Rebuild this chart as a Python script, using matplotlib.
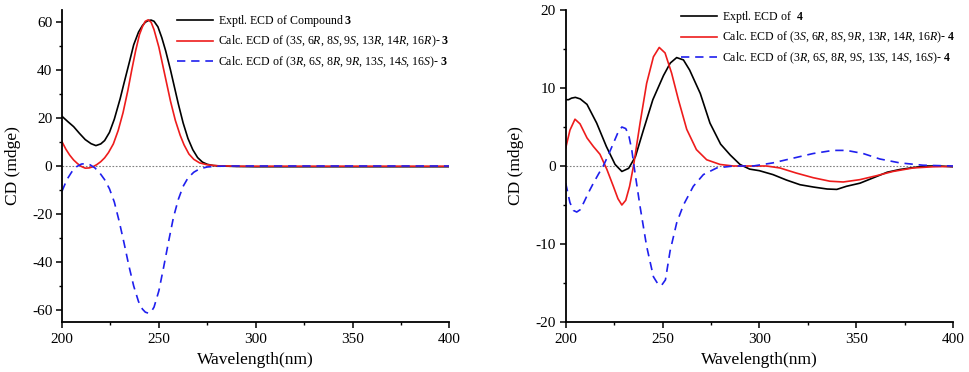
import matplotlib
matplotlib.use("Agg")
import matplotlib.pyplot as plt
from matplotlib.ticker import MultipleLocator

plt.rcParams["font.family"] = ["Liberation Serif", "DejaVu Serif"]
plt.rcParams["mathtext.fontset"] = "custom"
plt.rcParams["mathtext.rm"] = "Liberation Serif"
plt.rcParams["mathtext.it"] = "Liberation Serif:italic"
plt.rcParams["mathtext.bf"] = "Liberation Serif:bold"
plt.rcParams["axes.unicode_minus"] = False

# --- compound 3 (left panel) ---
wl3_exp = [200, 203, 206, 209, 212, 215, 217.5, 220, 222, 224.5, 227, 230, 232, 235, 237, 239.5,
           241.5, 243, 244.5, 246, 247.5, 249.5, 251.5, 253.5, 256, 258, 260, 262.5, 265, 267.5,
           270, 272.5, 275, 278, 282, 290, 300, 350, 400]
cd3_exp = [20.7, 18.5, 16.4, 13.6, 11.0, 9.3, 8.5, 9.2, 10.6, 14.0, 19.5, 28.0, 34.5, 44.0, 50.5, 55.8,
           58.5, 59.9, 60.6, 60.8, 60.3, 58.0, 53.5, 48.0, 40.0, 33.0, 26.0, 18.0, 11.5, 6.8,
           3.5, 1.6, 0.7, 0.2, 0.0, -0.2, -0.3, -0.3, -0.3]

wl3_a = [200, 202, 204, 206, 208, 210, 212, 214, 216, 218, 220, 222, 224, 226.5, 229, 231.5, 234,
         236, 238, 240, 241.5, 243, 244.5, 246, 247.5, 250, 252, 254, 256, 258.5, 261, 263, 265.5,
         268, 271, 275, 280, 290, 300, 350, 400]
cd3_a = [10.1, 7.0, 4.5, 2.5, 1.0, -0.2, -0.9, -0.8, -0.3, 0.6, 1.8, 3.4, 5.6, 9.2, 14.8, 22.2, 31.5,
         40.0, 48.0, 54.8, 58.0, 60.3, 60.9, 59.9, 56.8, 49.5, 42.0, 34.5, 27.0, 19.0, 12.8, 8.8, 5.0,
         2.8, 1.3, 0.5, 0.1, -0.1, -0.1, -0.1, -0.1]

wl3_b = [200, 202.5, 205, 207.5, 210, 212, 214.5, 217, 219.5, 222, 224.5, 227, 229.5, 232, 234.5,
         237, 239.5, 241.5, 243, 244.5, 246, 247.5, 250, 252.5, 255, 257.5, 260, 262.5, 265, 268, 271,
         275, 280, 290, 300, 350, 400]
cd3_b = [-10.5, -5.7, -2.5, -0.3, 0.8, 1.0, 0.5, -0.8, -2.9, -5.7, -9.5, -15.0, -23.0, -32.0, -41.5,
         -50.0, -56.5, -59.6, -60.9, -61.3, -60.8, -58.8, -52.0, -42.0, -31.5, -21.5, -14.0, -8.5,
         -5.0, -2.6, -1.2, -0.4, -0.1, 0.0, 0.0, 0.0, 0.0]

# --- compound 4 (right panel) ---
wl4_exp = [200, 201.5, 203, 205, 207.5, 211, 216, 221, 225.5, 229, 232.5, 236, 240, 245, 250.5,
           254, 257.3, 260.8, 264, 269.5, 274.5, 280, 285, 290, 295, 300, 307, 314, 321, 328,
           335, 340, 345, 352, 359, 366, 372.5, 379.5, 386, 393, 400]
cd4_exp = [8.5, 8.5, 8.7, 8.8, 8.6, 7.9, 5.5, 2.5, 0.2, -0.7, -0.3, 1.2, 4.5, 8.5, 11.6, 13.2, 13.9,
           13.6, 12.3, 9.3, 5.5, 2.8, 1.4, 0.2, -0.4, -0.6, -1.1, -1.8, -2.4, -2.7, -2.95, -3.0,
           -2.6, -2.2, -1.5, -0.8, -0.45, -0.2, 0.0, 0.0, -0.1]

wl4_a = [200, 202.2, 204.8, 207.4, 211, 214.3, 217.7, 221.2, 224.6, 227, 229, 231, 233, 235,
         238.4, 241.8, 245.3, 248.3, 251.3, 254.7, 258.2, 262.5, 267.5, 272.8, 279.7, 286.5,
         295, 303.7, 310.6, 319, 327.8, 336.4, 343.3, 351.9, 360.4, 369, 379.4, 389.7, 400]
cd4_a = [2.3, 4.6, 6.0, 5.4, 3.6, 2.5, 1.5, -0.4, -2.6, -4.2, -5.0, -4.4, -2.6, 0.0, 5.5, 10.6,
         14.0, 15.2, 14.5, 11.9, 8.5, 4.7, 2.1, 0.8, 0.2, 0.0, 0.0, 0.0, -0.25, -0.9, -1.5,
         -1.95, -2.05, -1.75, -1.25, -0.7, -0.25, -0.1, -0.05]

wl4_b = [200, 202.2, 204, 205.7, 207.5, 209.5, 212, 214.3, 217, 219.4, 222, 224.6, 227, 229,
         231, 232.5, 234.1, 235.8, 238.4, 241.8, 245.3, 247.8, 249.5, 251.5, 253.9, 257.3,
         260.8, 265.9, 271.1, 278, 286.5, 296.8, 307, 317.4, 327.8, 338, 345, 353.6, 362.2,
         372.5, 384.5, 400]
cd4_b = [-2.2, -4.7, -5.7, -5.9, -5.6, -4.6, -3.3, -2.2, -1.0, 0.0, 1.4, 2.9, 4.3, 5.0, 4.8,
         4.0, 2.1, -0.9, -5.2, -10.3, -14.2, -15.2, -15.3, -14.6, -10.9, -7.3, -5.0, -2.6,
         -1.1, -0.25, 0.0, 0.0, 0.4, 1.0, 1.6, 2.0, 2.0, 1.6, 0.9, 0.4, 0.1, 0.0]

labels3 = ["Exptl. ECD of Compound$\\ \\mathbf{3}$",
           "Calc. ECD of (3$\\mathit{S}$, 6$\\mathit{R}$, 8$\\mathit{S}$, 9$\\mathit{S}$, 13$\\mathit{R}$, 14$\\mathit{R}$, 16$\\mathit{R}$)- $\\mathbf{3}$",
           "Calc. ECD of (3$\\mathit{R}$, 6$\\mathit{S}$, 8$\\mathit{R}$, 9$\\mathit{R}$, 13$\\mathit{S}$, 14$\\mathit{S}$, 16$\\mathit{S}$)- $\\mathbf{3}$"]
labels4 = ["Exptl. ECD of  $\\mathbf{4}$",
           "Calc. ECD of (3$\\mathit{S}$, 6$\\mathit{R}$, 8$\\mathit{S}$, 9$\\mathit{R}$, 13$\\mathit{R}$, 14$\\mathit{R}$, 16$\\mathit{R}$)- $\\mathbf{4}$",
           "Calc. ECD of (3$\\mathit{R}$, 6$\\mathit{S}$, 8$\\mathit{R}$, 9$\\mathit{S}$, 13$\\mathit{S}$, 14$\\mathit{S}$, 16$\\mathit{S}$)- $\\mathbf{4}$"]


def draw_panel(ax, curves, labels, ylim, ymajor, legend_xy):
    ax.axhline(0, color="#808080", lw=0.8, ls=(0, (1.5, 1.5)), zorder=1)
    ax.plot(curves[0][0], curves[0][1], color="black", lw=1.2, label=labels[0])
    ax.plot(curves[1][0], curves[1][1], color="#ee1c1c", lw=1.2, label=labels[1])
    ax.plot(curves[2][0], curves[2][1], color="#1f1fee", lw=1.2, ls=(0, (5, 3.5)), label=labels[2])
    ax.set_xlim(200, 400)
    ax.set_ylim(*ylim)
    ax.xaxis.set_major_locator(MultipleLocator(50))
    ax.xaxis.set_minor_locator(MultipleLocator(25))
    ax.yaxis.set_major_locator(MultipleLocator(ymajor))
    ax.yaxis.set_minor_locator(MultipleLocator(ymajor / 2))
    for s in ["top", "right"]:
        ax.spines[s].set_visible(False)
    for s in ["left", "bottom"]:
        ax.spines[s].set_linewidth(1.3)
    ax.tick_params(which="major", direction="out", length=4, width=1.1, labelsize=11, pad=3)
    ax.tick_params(which="minor", direction="out", length=2.5, width=1.0)
    ax.tick_params(axis="x", which="major", pad=4)
    ax.set_xlabel("Wavelength(nm)", fontsize=12.5, labelpad=4)
    ax.set_ylabel("CD (mdge)", fontsize=12.5, labelpad=8)
    ax.legend(loc="upper left", bbox_to_anchor=legend_xy, bbox_transform=fig.transFigure,
              frameon=False, fontsize=8.6, handlelength=3.0, handletextpad=0.45,
              borderpad=0, borderaxespad=0, labelspacing=0.42)


fig = plt.figure(figsize=(9.69, 3.72), dpi=100)
ax1 = fig.add_axes([62 / 969, 1 - 322 / 372, 387.5 / 969, 312 / 372])
ax2 = fig.add_axes([565.7 / 969, 1 - 322 / 372, 387.3 / 969, 312 / 372])

draw_panel(ax1, [(wl3_exp, cd3_exp), (wl3_a, cd3_a), (wl3_b, cd3_b)], labels3,
           (-65, 65), 20, (177 / 969, 1 - 13 / 372))
draw_panel(ax2, [(wl4_exp, cd4_exp), (wl4_a, cd4_a), (wl4_b, cd4_b)], labels4,
           (-20, 20), 10, (681 / 969, 1 - 9 / 372))

fig.savefig("out.png", dpi=100)
